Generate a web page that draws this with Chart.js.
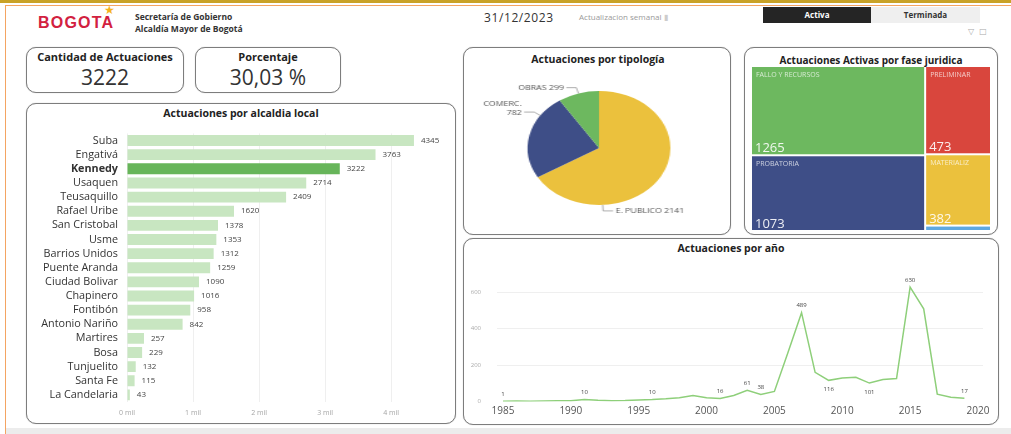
<!DOCTYPE html>
<html>
<head>
<meta charset="utf-8">
<script src="https://cdn.jsdelivr.net/npm/chart.js@4.4.0/dist/chart.umd.min.js"></script>
<style>
  body { margin: 0; width: 1011px; height: 434px; position: relative; overflow: hidden; background: #fff; font-family: 'Open Sans', sans-serif; color: #333; }
  .abs { position: absolute; }
  .panel { position: absolute; border: 1px solid #7d7d7d; border-radius: 10px; box-sizing: border-box; background: #fff; box-shadow: 0 0 1px #aaa; }
  .titulo { position: absolute; text-align: center; font-weight: bold; font-size: 10.5px; line-height: 14px; color: #222; white-space: nowrap; }
  canvas { position: absolute; }
</style>
</head>
<body>

<!-- marco -->
<div class="abs" style="left:0;top:0;width:1011px;height:3px;background:#c9a227"></div>
<div class="abs" style="left:5px;top:5px;width:1006px;height:429px;border-left:1px solid #f4a462;border-top:1px solid #f4a462;box-sizing:border-box"></div>
<div class="abs" style="left:6px;top:428px;width:1005px;height:6px;background:#ececec"></div>

<!-- encabezado -->
<div class="abs" style="left:38px;top:14px;font:bold 16px 'Liberation Sans',sans-serif;color:#d2213f;letter-spacing:1.2px">BOGOTA</div>
<div class="abs" style="left:104px;top:3px;font:12px 'DejaVu Sans';color:#f5b21c">★</div>
<div class="abs" style="left:135px;top:11px;font:bold 8.5px 'Open Sans';line-height:12px;color:#333">Secretaría de Gobierno<br>Alcaldía Mayor de Bogotá</div>
<div class="abs" style="left:484px;top:9px;font:12px 'Open Sans';letter-spacing:0.6px;color:#333">31/12/2023</div>
<div class="abs" style="left:579px;top:11px;font:8px 'Open Sans';color:#9a9a9a">Actualizacion semanal <span style="color:#ccc">▮</span></div>
<div class="abs" style="left:763px;top:7px;width:108px;height:16px;background:#252525;color:#fff;font:bold 8px 'Open Sans';text-align:center;line-height:16px">Activa</div>
<div class="abs" style="left:871px;top:7px;width:109px;height:16px;background:#efefef;color:#333;font:bold 8px 'Open Sans';text-align:center;line-height:16px">Terminada</div>
<div class="abs" style="left:968px;top:27px;font:8px 'DejaVu Sans';color:#aaa">▽&nbsp;&nbsp;□</div>

<!-- indicadores -->
<div class="panel" style="left:26px;top:47px;width:158px;height:46px"></div>
<div class="titulo" style="left:26px;top:50px;width:158px;font-size:11px">Cantidad de Actuaciones</div>
<div class="abs" style="left:26px;top:64px;width:158px;text-align:center;font-size:21px;line-height:26px;color:#333">3222</div>
<div class="panel" style="left:195px;top:47px;width:146px;height:46px"></div>
<div class="titulo" style="left:195px;top:50px;width:146px;font-size:11px">Porcentaje</div>
<div class="abs" style="left:195px;top:64px;width:146px;text-align:center;font-size:21px;line-height:26px;color:#333">30,03 %</div>

<!-- paneles de graficos -->
<div class="panel" style="left:26px;top:103px;width:430px;height:321px"></div>
<div class="titulo" style="left:26px;top:106px;width:430px">Actuaciones por alcaldia local</div>
<canvas id="barras" width="425" height="304" style="left:27px;top:118px"></canvas>

<div class="panel" style="left:463px;top:47px;width:268px;height:188px"></div>
<div class="titulo" style="left:463px;top:52px;width:270px">Actuaciones por tipología</div>
<div class="abs" style="left:465px;top:68px;width:214px;height:167px;transform:scaleX(1.2523);transform-origin:0 0">
  <canvas id="pastel" width="214" height="167" style="left:0;top:0"></canvas>
</div>

<div class="panel" style="left:744px;top:47px;width:254px;height:188px"></div>
<div class="titulo" style="left:744px;top:53px;width:254px;font-size:10px">Actuaciones Activas por fase juridica</div>
<canvas id="mosaico" width="240" height="165" style="left:752px;top:67px"></canvas>

<div class="panel" style="left:463px;top:238px;width:536px;height:187px"></div>
<div class="titulo" style="left:463px;top:241px;width:536px">Actuaciones por año</div>
<canvas id="lineas" width="530" height="159" style="left:465px;top:262px"></canvas>

<script>
// ---- datos ----
const alcaldias = ['Suba', 'Engativá', 'Kennedy', 'Usaquen', 'Teusaquillo', 'Rafael Uribe', 'San Cristobal', 'Usme',
  'Barrios Unidos', 'Puente Aranda', 'Ciudad Bolivar', 'Chapinero', 'Fontibón', 'Antonio Nariño', 'Martires', 'Bosa',
  'Tunjuelito', 'Santa Fe', 'La Candelaria'];
const actuacionesAlcaldia = [4345, 3763, 3222, 2714, 2409, 1620, 1378, 1353, 1312, 1259, 1090, 1016, 958, 842, 257, 229, 132, 115, 43];
const alcaldiaSeleccionada = 'Kennedy';
const milesEje = [0, 1000, 2000, 3000, 4000];

const tipologias = ['E. PUBLICO', 'COMERC.', 'OBRAS'];
const actuacionesTipologia = [2141, 782, 299];

const fases = ['FALLO Y RECURSOS', 'PROBATORIA', 'PRELIMINAR', 'MATERIALIZ', 'OTRAS'];
const actuacionesFase = [1265, 1073, 473, 382, 29];
const columnaFase = [0, 0, 1, 1, 1];

const anios = [1985, 1986, 1987, 1988, 1989, 1990, 1991, 1992, 1993, 1994, 1995, 1996, 1997, 1998, 1999, 2000, 2001,
  2002, 2003, 2004, 2005, 2006, 2007, 2008, 2009, 2010, 2011, 2012, 2013, 2014, 2015, 2016, 2017, 2018, 2019];
const actuacionesAnio = [1, 2, 1, 2, 3, 4, 10, 6, 4, 5, 8, 10, 14, 20, 32, 20, 16,
  33, 61, 38, 55, 270, 489, 160, 116, 129, 133, 101, 121, 126, 630, 510, 40, 23, 17];
const aniosEtiquetados = [1985, 1991, 1996, 2001, 2003, 2004, 2007, 2009, 2012, 2015, 2019];
const aniosEtiquetaAbajo = [2009, 2012];
const aniosEje = [1985, 1990, 1995, 2000, 2005, 2010, 2015, 2020];
const valoresEje = [0, 200, 400, 600];

Chart.defaults.font.family = "'Open Sans', sans-serif";
Chart.defaults.animation = false;
Chart.defaults.plugins.legend.display = false;
Chart.defaults.plugins.tooltip.enabled = false;

const verde = '#6db85f', amarillo = '#ebc13d', azul = '#3e4e87', rojo = '#d9463d', celeste = '#5fa8e0';

/* BARRAS POR ALCALDIA */
const etiquetasBarras = {
  id: 'etiquetasBarras',
  afterDatasetsDraw(chart) {
    const ctx = chart.ctx;
    ctx.save();
    ctx.font = '8px "Open Sans"';
    ctx.fillStyle = '#444';
    ctx.textBaseline = 'middle';
    chart.getDatasetMeta(0).data.forEach((bar, i) => {
      ctx.fillText(actuacionesAlcaldia[i], bar.x + 7, bar.y);
    });
    ctx.restore();
  }
};

new Chart(document.getElementById('barras'), {
  type: 'bar',
  data: {
    labels: alcaldias,
    datasets: [{
      data: actuacionesAlcaldia,
      backgroundColor: alcaldias.map(a => a === alcaldiaSeleccionada ? '#67b55a' : '#c8e6c1'),
      barPercentage: 0.77,
      categoryPercentage: 1
    }]
  },
  options: {
    indexAxis: 'y',
    responsive: false,
    layout: { padding: { top: 6, right: 8 } },
    scales: {
      x: {
        min: 0, max: 4800,
        afterBuildTicks: s => { s.ticks = milesEje.map(v => ({ value: v })); },
        afterFit: s => { s.height = 20; },
        grid: { color: '#efefef', drawTicks: false },
        border: { display: false },
        ticks: { padding: 7, color: '#a5a5a5', font: { size: 7 }, callback: v => (v / 1000) + ' mil' }
      },
      y: {
        afterFit: s => { s.width = 100; },
        grid: { display: false, drawTicks: false },
        border: { display: false },
        ticks: {
          autoSkip: false, padding: 9, color: '#333',
          font: c => ({ size: 10.8, weight: alcaldias[c.index] === alcaldiaSeleccionada ? 'bold' : 'normal' })
        }
      }
    }
  },
  plugins: [etiquetasBarras]
});

/* PASTEL POR TIPOLOGIA */
const etiquetasPastel = {
  id: 'etiquetasPastel',
  afterDatasetsDraw(chart, args, opts) {
    const ctx = chart.ctx;
    ctx.save();
    ctx.font = '7px "Open Sans"';
    ctx.fillStyle = '#555';
    ctx.strokeStyle = '#999';
    ctx.lineWidth = 0.8;
    ctx.textBaseline = 'middle';
    chart.getDatasetMeta(0).data.forEach((arc, i) => {
      const p = arc.getProps(['x', 'y', 'startAngle', 'endAngle', 'outerRadius'], true);
      const a = p.startAngle + (p.endAngle - p.startAngle) * opts.anclas[i];
      const cos = Math.cos(a), sin = Math.sin(a);
      const x1 = p.x + cos * p.outerRadius, y1 = p.y + sin * p.outerRadius;
      const x2 = p.x + cos * (p.outerRadius + 6), y2 = p.y + sin * (p.outerRadius + 6);
      const dir = cos >= 0 ? 1 : -1;
      const x3 = x2 + dir * 8;
      ctx.beginPath();
      ctx.moveTo(x1, y1); ctx.lineTo(x2, y2); ctx.lineTo(x3, y2);
      ctx.stroke();
      ctx.textAlign = dir > 0 ? 'left' : 'right';
      const tx = x3 + dir * 2;
      if (opts.partir[i]) {
        ctx.fillText(tipologias[i], tx, y2 - 8);
        ctx.fillText(actuacionesTipologia[i], tx, y2 + 1);
      } else {
        ctx.fillText(tipologias[i] + ' ' + actuacionesTipologia[i], tx, y2);
      }
    });
    ctx.restore();
  }
};

new Chart(document.getElementById('pastel'), {
  type: 'pie',
  data: {
    labels: tipologias,
    datasets: [{ data: actuacionesTipologia, backgroundColor: [amarillo, azul, verde], borderWidth: 0 }]
  },
  options: {
    responsive: false,
    layout: { padding: { top: 23, bottom: 30 } },
    plugins: { etiquetasPastel: { anclas: [0.74, 0.75, 0.5], partir: [false, true, false] } }
  },
  plugins: [etiquetasPastel]
});

/* MOSAICO POR FASE */
const coloresFase = [verde, azul, rojo, amarillo, celeste];
const mosaico = {
  id: 'mosaico',
  afterDraw(chart) {
    const { ctx, scales: { x, y } } = chart;
    const total = actuacionesFase.reduce((s, v) => s + v, 0);
    const columnas = [...new Set(columnaFase)];
    let acumX = 0;
    ctx.save();
    columnas.forEach(c => {
      const idx = fases.map((_, i) => i).filter(i => columnaFase[i] === c);
      const suma = idx.reduce((s, i) => s + actuacionesFase[i], 0);
      let acumY = 0;
      idx.forEach(i => {
        const x0 = x.getPixelForValue(acumX / total);
        const x1 = x.getPixelForValue((acumX + suma) / total);
        const y0 = y.getPixelForValue(acumY / suma);
        const y1 = y.getPixelForValue((acumY + actuacionesFase[i]) / suma);
        ctx.fillStyle = coloresFase[i];
        ctx.fillRect(x0, y0, x1 - x0 - 2, Math.max(y1 - y0 - 2, 1));
        if (y1 - y0 > 25) {
          ctx.fillStyle = 'rgba(255,255,255,0.72)';
          ctx.textBaseline = 'middle';
          ctx.font = '7px "Open Sans"';
          ctx.fillText(fases[i], x0 + 4, y0 + 8);
          ctx.fillStyle = 'rgba(255,255,255,0.9)';
          ctx.textBaseline = 'alphabetic';
          ctx.font = '13px "Open Sans"';
          ctx.fillText(actuacionesFase[i], x0 + 3, y1 - 4);
        }
        acumY += actuacionesFase[i];
      });
      acumX += suma;
    });
    ctx.restore();
  }
};

new Chart(document.getElementById('mosaico'), {
  type: 'scatter',
  data: { datasets: [] },
  options: {
    responsive: false,
    scales: {
      x: { type: 'linear', min: 0, max: 1, display: false },
      y: { type: 'linear', min: 0, max: 1, reverse: true, display: false }
    }
  },
  plugins: [mosaico]
});

/* LINEA POR AÑO */
const etiquetasAnio = {
  id: 'etiquetasAnio',
  afterDatasetsDraw(chart) {
    const ctx = chart.ctx;
    const pts = chart.getDatasetMeta(0).data;
    ctx.save();
    ctx.font = '6px "Open Sans"';
    ctx.fillStyle = '#444';
    ctx.textAlign = 'center';
    ctx.textBaseline = 'middle';
    aniosEtiquetados.forEach(a => {
      const i = anios.indexOf(a);
      const dy = aniosEtiquetaAbajo.includes(a) ? 9 : -7;
      ctx.fillText(actuacionesAnio[i], pts[i].x, pts[i].y + dy);
    });
    ctx.restore();
  }
};

new Chart(document.getElementById('lineas'), {
  type: 'line',
  data: {
    datasets: [{
      data: anios.map((a, i) => ({ x: a, y: actuacionesAnio[i] })),
      borderColor: '#8ecf7a',
      borderWidth: 1.5,
      pointRadius: 0,
      tension: 0
    }]
  },
  options: {
    responsive: false,
    layout: { padding: { top: 8, right: 12 } },
    scales: {
      x: {
        type: 'linear', min: 1984.56, max: 2020.37,
        afterBuildTicks: s => { s.ticks = aniosEje.map(v => ({ value: v })); },
        afterFit: s => { s.height = 17; },
        grid: { display: false, drawTicks: false },
        border: { display: false },
        ticks: { padding: 4, color: '#555', font: { size: 10 }, callback: v => String(v) }
      },
      y: {
        min: 0, max: 660,
        afterBuildTicks: s => { s.ticks = valoresEje.map(v => ({ value: v })); },
        afterFit: s => { s.width = 32; },
        grid: { color: c => c.tick && c.tick.value === 0 ? 'rgba(0,0,0,0)' : '#efefef', drawTicks: false },
        border: { display: false },
        ticks: { padding: 16, color: '#aaa', font: { size: 6 } }
      }
    }
  },
  plugins: [etiquetasAnio]
});
</script>
</body>
</html>
